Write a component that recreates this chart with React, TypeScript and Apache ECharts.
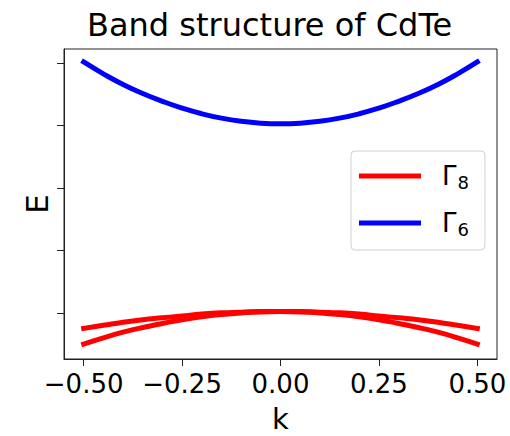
import React, { useEffect, useRef } from "react";
import * as echarts from "echarts";

const kValues = [-0.5, -0.45, -0.4, -0.35, -0.3, -0.25, -0.2, -0.15, -0.1, -0.05, 0, 0.05, 0.1, 0.15, 0.2, 0.25, 0.3, 0.35, 0.4, 0.45, 0.5];
const gamma6 = [4.02, 3.83, 3.66, 3.515, 3.39, 3.28, 3.19, 3.12, 3.07, 3.04, 3.03, 3.04, 3.07, 3.12, 3.19, 3.28, 3.39, 3.515, 3.66, 3.83, 4.02];
const gamma8Heavy = [-0.25, -0.2, -0.15, -0.11, -0.08, -0.05, -0.02, 0.0, 0.01, 0.02, 0.02, 0.02, 0.01, 0.0, -0.02, -0.05, -0.08, -0.11, -0.15, -0.2, -0.25];
const gamma8Light = [-0.5, -0.4, -0.31, -0.235, -0.17, -0.11, -0.063, -0.027, -0.001, 0.015, 0.02, 0.015, -0.001, -0.027, -0.063, -0.11, -0.17, -0.235, -0.31, -0.4, -0.5];
const xTicks = [-0.5, -0.25, 0, 0.25, 0.5];
const yTicks = [0, 1, 2, 3, 4];

const FONT = "DejaVu Sans";
const toPairs = (ys: number[]) => kValues.map((k, i) => [k, ys[i]]);

export default function App() {
  const ref = useRef<HTMLDivElement>(null);
  useEffect(() => {
    if (!ref.current) return;
    const chart = echarts.init(ref.current, null, { renderer: "svg" });
    const lineCommon = {
      type: "line",
      showSymbol: false,
      smooth: true,
      animation: false,
    };
    chart.setOption({
      animation: false,
      backgroundColor: "#ffffff",
      title: {
        text: "Band structure of CdTe",
        left: 82,
        top: 4,
        textStyle: { fontFamily: FONT, fontSize: 32, fontWeight: "normal", color: "#000" },
      },
      grid: {
        left: 64,
        top: 49,
        right: 13,
        bottom: 77,
        outerBoundsMode: "none",
        containLabel: false,
        show: true,
        borderColor: "#222",
        borderWidth: 1,
        backgroundColor: "transparent",
      },
      legend: {
        data: [
          { name: "Γ8", icon: "rect" },
          { name: "Γ6", icon: "rect" },
        ],
        orient: "vertical",
        left: 351,
        top: 151,
        itemWidth: 62,
        itemHeight: 5,
        itemGap: 19,
        padding: [12, 16, 12, 8],
        borderColor: "#d0d0d0",
        borderWidth: 1,
        borderRadius: 4,
        backgroundColor: "#fff",
        formatter: (name: string) => `{g|Γ}{s|${name.slice(1)}}`,
        textStyle: {
          fontFamily: FONT,
          color: "#000",
          padding: [0, 0, 0, 16],
          rich: {
            g: { fontFamily: FONT, fontSize: 26, color: "#000", height: 30 },
            s: { fontFamily: FONT, fontSize: 18, color: "#000", padding: [12, 0, 0, 1] },
          },
        },
      },
      xAxis: {
        type: "value",
        min: -0.55,
        max: 0.55,
        name: "k",
        nameLocation: "middle",
        nameGap: 45,
        nameTextStyle: { fontFamily: FONT, fontSize: 29, lineHeight: 29, color: "#000" },
        axisLine: { show: true, onZero: false, lineStyle: { color: "#222", width: 1 } },
        axisTick: { show: true, length: 7, lineStyle: { color: "#222" }, customValues: xTicks },
        axisLabel: {
          show: true,
          margin: 12,
          customValues: xTicks,
          fontFamily: FONT,
          fontSize: 26,
          color: "#000",
          formatter: (v: number) => (v < 0 ? "\u2212" + Math.abs(v).toFixed(2) : v.toFixed(2)),
        },
        splitLine: { show: false },
      },
      yAxis: {
        type: "value",
        min: -0.74,
        max: 4.228,
        name: "E",
        nameLocation: "middle",
        nameGap: 12,
        nameTextStyle: { fontFamily: FONT, fontSize: 31, color: "#000" },
        axisLine: { show: true, onZero: false, lineStyle: { color: "#222", width: 1 } },
        axisTick: { show: true, length: 7, lineStyle: { color: "#222" }, customValues: yTicks },
        axisLabel: { show: false, customValues: yTicks },
        splitLine: { show: false },
      },
      series: [
        { ...lineCommon, name: "Γ8", data: toPairs(gamma8Heavy), color: "#ff0000", lineStyle: { color: "#ff0000", width: 5, cap: "square" } },
        { ...lineCommon, name: "Γ8", data: toPairs(gamma8Light), color: "#ff0000", lineStyle: { color: "#ff0000", width: 5, cap: "square" } },
        { ...lineCommon, name: "Γ6", data: toPairs(gamma6), color: "#0000ff", lineStyle: { color: "#0000ff", width: 5, cap: "square" } },
      ],
    });
    return () => chart.dispose();
  }, []);
  return (
    <div
      ref={ref}
      style={{ position: "fixed", left: 0, top: 0, width: 510, height: 436, background: "#fff" }}
    />
  );
}
